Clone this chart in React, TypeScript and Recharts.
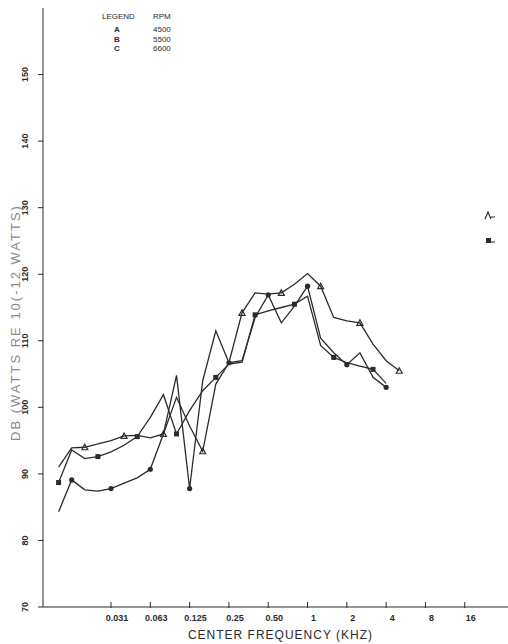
import React from 'react'
import { LineChart, Line, XAxis, YAxis } from 'recharts'

// one-third octave bands, counted from the 0.031 kHz band
const bands = [-4, -3, -2, -1, 0, 1, 2, 3, 4, 5, 6, 7, 8, 9, 10, 11, 12, 13, 14, 15, 16, 17, 18, 19, 20, 21, 22]

const rpm4500 = [91.0, 93.9, 94.0, 94.5, 95.0, 95.7, 95.8, 95.4, 96.0, 101.5, 97.2, 93.4, 103.5, 106.7, 114.2, 117.2, 117.0, 117.2, 118.5, 120.1, 118.2, 113.5, 113.0, 112.7, 109.5, 107.0, 105.5]
const rpm5500 = [88.7, 93.6, 92.3, 92.6, 93.3, 94.3, 95.6, 98.5, 101.9, 96.0, 99.5, 102.5, 104.5, 106.5, 106.8, 113.9, 114.5, 115.0, 115.5, 116.7, 109.3, 107.5, 106.7, 106.2, 105.7, 103.6, null]
const rpm6600 = [84.3, 89.1, 87.6, 87.4, 87.8, 88.6, 89.4, 90.7, 96.0, 104.8, 87.8, 104.0, 111.5, 106.7, 107.0, 113.5, 116.9, 112.7, 115.2, 118.2, 110.4, 108.2, 106.4, 108.2, 104.5, 103.0, null]

const freqTicks = [0, 1, 2, 3, 4, 5, 6, 7, 8, 9]
const freqLabels = ['0.031', '0.063', '0.125', '0.25', '0.50', '1', '2', '4', '8', '16']
const dbTicks = [70, 80, 90, 100, 110, 120, 130, 140, 150]

const legendRows = [
  { sym: 'A', rpm: '4500' },
  { sym: 'B', rpm: '5500' },
  { sym: 'C', rpm: '6600' },
]

const data = bands.map((n, i) => ({
  x: n / 3,
  a: rpm4500[i],
  b: rpm5500[i],
  c: rpm6600[i],
}))

const ink = '#2b2b2b'
const font = '"Liberation Sans", Arial, sans-serif'

const XTick = (props: any) => {
  const { x, y, payload } = props
  return (
    <g>
      <line x1={x} y1={y - 5} x2={x} y2={y + 1} stroke={ink} strokeWidth={1} />
      <text x={x + 6} y={y + 14} textAnchor="middle" fontSize={9} fontWeight="bold" fill={ink} fontFamily={font}>
        {freqLabels[payload.index] ?? ''}
      </text>
    </g>
  )
}

const YTick = (props: any) => {
  const { x, y, payload } = props
  return (
    <g>
      <line x1={x} y1={y} x2={x + 5} y2={y} stroke={ink} strokeWidth={1} />
      <text
        x={x - 10}
        y={y}
        transform={`rotate(-90 ${x - 10} ${y})`}
        textAnchor="middle"
        fontSize={9}
        fontWeight="bold"
        fill={ink}
        fontFamily={font}
      >
        {payload.value}
      </text>
    </g>
  )
}

// plotter drew a symbol on every third band
const makeDot = (phase: number, kind: string) => (props: any) => {
  const { cx, cy, index } = props
  if (cx == null || cy == null || index % 3 !== phase) return <g key={index} />
  if (kind === 'tri')
    return <path key={index} d={`M${cx - 3},${cy + 2.5} L${cx},${cy - 3} L${cx + 3},${cy + 2.5} Z`} fill="none" stroke={ink} strokeWidth={1.2} />
  if (kind === 'sq') return <rect key={index} x={cx - 2.5} y={cy - 2.5} width={5} height={5} fill={ink} />
  return <circle key={index} cx={cx} cy={cy} r={2.6} fill={ink} />
}

export default function App() {
  return (
    <div style={{ position: 'absolute', left: 0, top: 0, width: 508, height: 644, background: '#fff' }}>
      <LineChart width={508} height={644} data={data} margin={{ top: 8, right: 0, left: 0, bottom: 5 }}>
        <XAxis
          type="number"
          dataKey="x"
          domain={[-1.73, 10.1]}
          ticks={freqTicks}
          interval={0}
          tick={<XTick />}
          tickLine={false}
          tickSize={0}
          tickMargin={0}
          height={32}
          stroke={ink}
          allowDataOverflow
          label={{
            value: 'CENTER FREQUENCY (KHZ)',
            position: 'insideBottom',
            offset: 0,
            dx: 5,
            style: { fontSize: 12, letterSpacing: 1, fill: ink, fontFamily: font },
          }}
        />
        <YAxis
          type="number"
          domain={[70, 160]}
          ticks={dbTicks}
          interval={0}
          tick={<YTick />}
          tickLine={false}
          tickSize={5}
          tickMargin={0}
          width={43}
          stroke={ink}
          allowDataOverflow
          label={{
            value: 'DB (WATTS RE 10(-12 WATTS)',
            angle: -90,
            position: 'center',
            dx: -6,
            dy: 15,
            style: { fontSize: 13, letterSpacing: 2, fill: '#8a8a8a', fontFamily: font },
          }}
        />
        <Line dataKey="a" type="linear" stroke={ink} strokeWidth={1.3} dot={makeDot(2, 'tri')} activeDot={false} isAnimationActive={false} />
        <Line dataKey="b" type="linear" stroke={ink} strokeWidth={1.3} dot={makeDot(0, 'sq')} activeDot={false} isAnimationActive={false} />
        <Line dataKey="c" type="linear" stroke={ink} strokeWidth={1.3} dot={makeDot(1, 'dot')} activeDot={false} isAnimationActive={false} />
      </LineChart>
      <svg width={508} height={644} style={{ position: 'absolute', left: 0, top: 0, pointerEvents: 'none' }}>
        <g fontFamily={font} fontSize={8} fill={ink}>
          <text x={102} y={19}>LEGEND</text>
          <text x={153} y={19}>RPM</text>
          {legendRows.map((r, i) => (
            <g key={r.sym}>
              <text x={117} y={32 + i * 9.5} textAnchor="middle" fontWeight="bold">{r.sym}</text>
              <text x={153} y={32 + i * 9.5}>{r.rpm}</text>
            </g>
          ))}
        </g>
        <path d="M485,219 L488,212 L491,219" fill="none" stroke={ink} strokeWidth={1.2} />
        <line x1={491} y1={217} x2={495} y2={217} stroke={ink} strokeWidth={1} />
        <rect x={486} y={238} width={5} height={5} fill={ink} />
        <line x1={491} y1={242} x2={495} y2={242} stroke={ink} strokeWidth={1} />
      </svg>
    </div>
  )
}
